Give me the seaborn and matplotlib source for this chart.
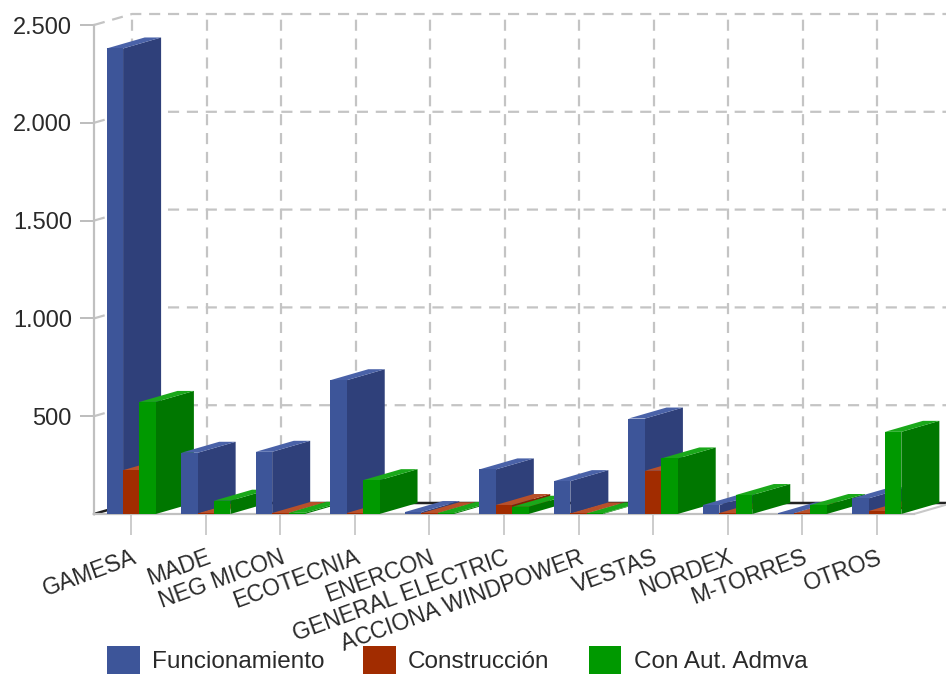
import numpy as np
import pandas as pd
import matplotlib
matplotlib.use("Agg")
import matplotlib.pyplot as plt
from matplotlib.patches import Polygon
from matplotlib.ticker import FuncFormatter
import seaborn as sns

# datos (MW)
fabricantes = ["GAMESA", "MADE", "NEG MICON", "ECOTECNIA", "ENERCON",
               "GENERAL ELECTRIC", "ACCIONA WINDPOWER", "VESTAS", "NORDEX",
               "M-TORRES", "OTROS"]
funcionamiento = [2380, 313, 318, 684, 10, 228, 168, 488, 46, 4, 80]
construccion = [224, 3, 5, 5, 4, 46, 3, 221, 5, 3, 15]
con_aut_admva = [573, 68, 6, 173, 5, 37, 3, 284, 97, 46, 420]
series = ["Funcionamiento", "Construcción", "Con Aut. Admva"]

front_cols = ["#3d5599", "#a12c00", "#009900"]
side_cols = ["#2f407a", "#7f2200", "#007700"]
top_cols = ["#4a62a8", "#b8502a", "#1aa81a"]

df = pd.DataFrame({
    "fabricante": fabricantes * 3,
    "serie": np.repeat(series, len(fabricantes)),
    "valor": funcionamiento + construccion + con_aut_admva,
})

sns.set_style("white")
plt.rcParams['font.family'] = ['Liberation Sans', 'DejaVu Sans']
txt = "#2a2a2a"

fig = plt.figure(figsize=(9.46, 6.8), dpi=100)
ax = fig.add_axes([94 / 946, 1 - 514 / 680, 820 / 946, 489 / 680])

sns.barplot(data=df, x="fabricante", y="valor", hue="serie", order=fabricantes,
            hue_order=series, palette=front_cols, width=0.66, gap=0,
            saturation=1, linewidth=0, ax=ax, legend=False)

ax.set_xlim(-0.5, len(fabricantes) - 0.5)
ax.set_ylim(0, 2500)

# profundidad del efecto 3D (en unidades de datos)
ddx = 38 / 74.5
ddy = 11 / (489 / 2500)

grid_kw = dict(color="#c4c4c4", lw=1.6, ls=(0, (5, 3.5)), zorder=0.5, clip_on=False)
xr = len(fabricantes) - 0.5 + ddx
for v in [500, 1000, 1500, 2000, 2500]:
    ax.plot([-0.5, -0.5 + ddx, xr], [v, v + ddy, v + ddy], **grid_kw)
for k in range(len(fabricantes)):
    xb = -0.5 + k + ddx
    ax.plot([xb, xb], [ddy, 2500 + ddy], **grid_kw)

# linea de cero en el fondo
ax.plot([-0.5, -0.5 + ddx, xr], [0, ddy, ddy], color="#222222", lw=1.8,
        zorder=0.8, clip_on=False)
# borde derecho del suelo
ax.plot([len(fabricantes) - 0.5, xr], [0, ddy], color="#c8c8c8", lw=1.5,
        zorder=0.8, clip_on=False)

# caras laterales y superiores
n = len(fabricantes)
for i, p in enumerate(ax.patches[:3 * n]):
    h_idx, c_idx = divmod(i, n)
    z = 2 + c_idx * 0.1 + h_idx * 0.03
    x0 = p.get_x()
    x1 = x0 + p.get_width()
    h = p.get_height()
    p.set_zorder(z + 0.01)
    side = Polygon([(x1, 0), (x1 + ddx, ddy), (x1 + ddx, h + ddy), (x1, h)],
                   closed=True, facecolor=side_cols[h_idx], edgecolor="none",
                   zorder=z, clip_on=False)
    top = Polygon([(x0, h), (x0 + ddx, h + ddy), (x1 + ddx, h + ddy), (x1, h)],
                  closed=True, facecolor=top_cols[h_idx], edgecolor="none",
                  zorder=z, clip_on=False)
    ax.add_patch(side)
    ax.add_patch(top)

ax.set_yticks([500, 1000, 1500, 2000, 2500])
ax.yaxis.set_major_formatter(FuncFormatter(lambda v, _: f"{int(v):,}".replace(",", ".")))
ax.tick_params(axis="y", length=10, width=1.3, color="#b8b8b8", labelsize=17,
               labelcolor=txt, pad=6, left=True)
ax.tick_params(axis="x", length=15, width=1.3, color="#c8c8c8", labelsize=16.5,
               labelcolor=txt, pad=8, bottom=True)
ax.set_xticks(range(n))
ax.set_xticklabels(fabricantes, rotation=20, ha="right", rotation_mode="anchor")
ax.set_xlabel("")
ax.set_ylabel("")

for s in ["top", "right"]:
    ax.spines[s].set_visible(False)
for s in ["left", "bottom"]:
    ax.spines[s].set_color("#c0c0c0")
    ax.spines[s].set_linewidth(1.6)
    ax.spines[s].set_zorder(0.9)

handles = [plt.Rectangle((0, 0), 1, 1, facecolor=c, edgecolor="none") for c in front_cols]
fig.legend(handles, series, loc="center", bbox_to_anchor=(457 / 946, 1 - 660 / 680),
           ncol=3, frameon=False, fontsize=17.5, handlelength=1.35, handleheight=1.35,
           handletextpad=0.5, columnspacing=1.6, labelcolor=txt)

fig.savefig("out.png", dpi=100)
